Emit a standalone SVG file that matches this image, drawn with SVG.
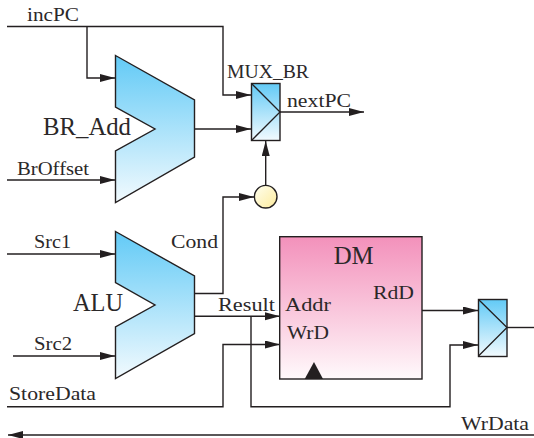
<svg xmlns="http://www.w3.org/2000/svg" width="534" height="438" viewBox="0 0 534 438">
<style>
.w{fill:none;stroke:#231f20;stroke-width:1.4}
.a{marker-end:url(#ah)}
.s{stroke:#231f20;stroke-width:1.4;stroke-linejoin:miter}
.i{fill:none;stroke:#231f20;stroke-width:1.3}
text{font-family:"Liberation Serif","Times New Roman",serif;fill:#2b2829}
.t15{font-size:19px}
.t20{font-size:26px}
</style>
<defs>
<linearGradient id="b" x1="0" y1="0" x2="0" y2="1"><stop offset="0" stop-color="#62caf6"/><stop offset="1" stop-color="#f2fafe"/></linearGradient>
<linearGradient id="p" x1="0" y1="0" x2="0" y2="1"><stop offset="0" stop-color="#f391bb"/><stop offset="1" stop-color="#fff9fb"/></linearGradient>
<linearGradient id="y" x1="0" y1="0" x2="1" y2="1"><stop offset="0" stop-color="#fffff0"/><stop offset="1" stop-color="#fdeb9c"/></linearGradient>
<marker id="ah" markerUnits="userSpaceOnUse" markerWidth="16" markerHeight="10" refX="15" refY="4" orient="auto"><path d="M0 0L15 4L0 8Z" fill="#231f20"/></marker>
</defs>
<g id="connectors">
<path class="w a" d="M7 26.500H223V95H251"/>
<path class="w a" d="M87 26.500V78H115"/>
<path class="w a" d="M7 180H115"/>
<path class="w a" d="M194.500 129H251"/>
<path class="w a" d="M280 112H364"/>
<path class="w a" d="M265.700 185V141"/>
<path class="w a" d="M194.500 293.500H223V197H254"/>
<path class="w a" d="M7 254H115"/>
<path class="w a" d="M13 356H115"/>
<path class="w a" d="M194.500 316.300H280"/>
<path class="w a" d="M251 316.300V406.700H450V345H478"/>
<path class="w a" d="M7 406.700H223V344.500H280"/>
<path class="w a" d="M422 310.500H478"/>
<path class="w" d="M507 327.500H534"/>
<path class="w a" d="M534 435H8"/>
</g>
<g id="br-add">
<path class="s" fill="url(#b)" d="M115.500 55.500L194.500 100V157L115.500 202.500V151L155 129L115.500 107Z"/>
<text class="t20" x="43" y="135" textLength="88" lengthAdjust="spacingAndGlyphs">BR_Add</text>
</g>
<g id="alu">
<path class="s" fill="url(#b)" d="M115.500 231.500L194.500 276V333.500L115.500 378.500V327L155 305L115.500 282.500Z"/>
<text class="t20" x="73" y="311" textLength="50" lengthAdjust="spacingAndGlyphs">ALU</text>
</g>
<g id="mux-br">
<rect class="s" x="251.500" y="83.500" width="28.500" height="57" fill="url(#b)"/>
<path class="i" d="M251.500 83.500L280 112L251.500 140.500"/>
<text class="t15" x="227" y="78" textLength="82" lengthAdjust="spacingAndGlyphs">MUX_BR</text>
</g>
<g id="cond-bubble">
<circle class="s" cx="265.700" cy="196.700" r="11.300" fill="url(#y)"/>
</g>
<g id="dm">
<rect class="s" x="279.700" y="236.700" width="142.300" height="142.300" fill="url(#p)"/>
<path d="M304.700 379L314 362L323 379Z" fill="#231f20"/>
<text class="t20" x="333.700" y="264" textLength="40" lengthAdjust="spacingAndGlyphs">DM</text>
<text class="t15" x="373" y="299" textLength="41" lengthAdjust="spacingAndGlyphs">RdD</text>
<text class="t15" x="285" y="311" textLength="46" lengthAdjust="spacingAndGlyphs">Addr</text>
<text class="t15" x="287" y="339" textLength="42" lengthAdjust="spacingAndGlyphs">WrD</text>
</g>
<g id="mux-out">
<rect class="s" x="478.500" y="299.500" width="28.500" height="57" fill="url(#b)"/>
<path class="i" d="M478.500 299.500L507 327.500L478.500 356"/>
</g>
<g id="labels">
<text class="t15" x="27" y="21" textLength="52" lengthAdjust="spacingAndGlyphs">incPC</text>
<text class="t15" x="17" y="175" textLength="72" lengthAdjust="spacingAndGlyphs">BrOffset</text>
<text class="t15" x="287" y="107" textLength="64" lengthAdjust="spacingAndGlyphs">nextPC</text>
<text class="t15" x="34" y="248" textLength="37" lengthAdjust="spacingAndGlyphs">Src1</text>
<text class="t15" x="34" y="350" textLength="38" lengthAdjust="spacingAndGlyphs">Src2</text>
<text class="t15" x="171" y="248" textLength="47" lengthAdjust="spacingAndGlyphs">Cond</text>
<text class="t15" x="218" y="311" textLength="57" lengthAdjust="spacingAndGlyphs">Result</text>
<text class="t15" x="9" y="400" textLength="87" lengthAdjust="spacingAndGlyphs">StoreData</text>
<text class="t15" x="461" y="430" textLength="68" lengthAdjust="spacingAndGlyphs">WrData</text>
</g>
</svg>
